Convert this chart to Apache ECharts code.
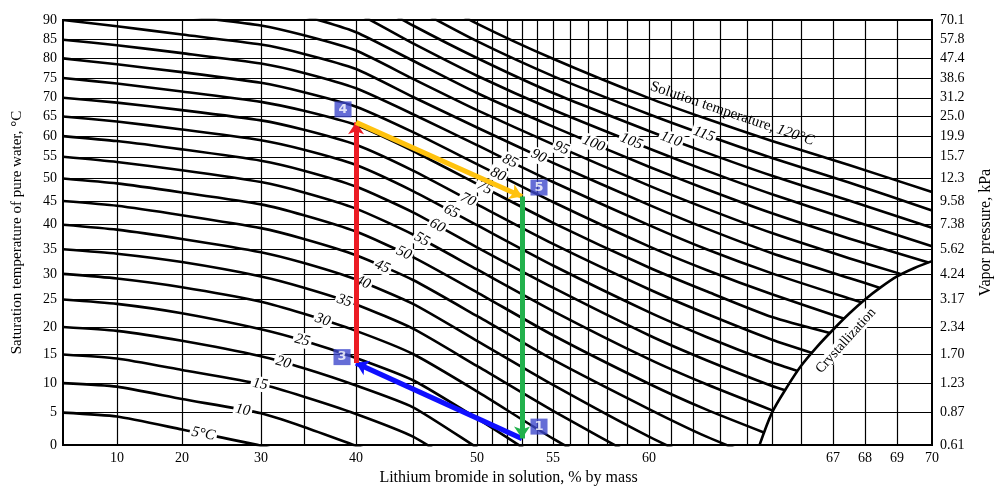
<!DOCTYPE html>
<html>
<head>
<meta charset="utf-8">
<script src="https://cdn.jsdelivr.net/npm/echarts@6/dist/echarts.min.js"></script>
<style>
  html, body { margin: 0; padding: 0; background: #fff; }
  #chart { width: 1003px; height: 491px; }
</style>
</head>
<body>
<div id="chart"></div>
<script>
// ---- data ----
// LiBr concentration columns (% by mass)
var concentrations = [0, 10, 20, 30, 35, 40, 45, 50, 55, 60, 62.5, 65, 67.5, 70];
// solution temperature of each line (°C)
var solutionTemps = [5, 10, 15, 20, 25, 30, 35, 40, 45, 50, 55, 60, 65, 70, 75, 80, 85, 90, 95, 100, 105, 110, 115, 120];
// saturation temperature of pure water (°C) along each line, one column per concentration
var dewTemps = [
  [5, 4.4, 2.4, -0.1, -2.1, null, null, null, null, null, null, null, null, null],
  [10, 9.4, 7.3, 4.9, 2.8, -0.1, -3.3, null, null, null, null, null, null, null],
  [15, 14.3, 12.3, 9.8, 7.7, 4.8, 1.3, -4.9, null, null, null, null, null, null],
  [20, 19.3, 17.5, 14.7, 12.6, 9.6, 5.9, -0.4, -7.8, null, null, null, null, null],
  [25, 24.2, 22.5, 19.6, 17.5, 14.4, 10.5, 4.1, -3.4, null, null, null, null, null],
  [30, 29.1, 27.4, 24.6, 22.4, 19.3, 15.1, 8.6, 1.0, -7.2, null, null, null, null],
  [35, 34.1, 32.4, 29.5, 27.3, 24.1, 19.7, 13.0, 5.3, -2.9, null, null, null, null],
  [40, 39.0, 37.1, 34.4, 32.2, 28.9, 24.2, 17.5, 9.7, 1.3, -2.9, null, null, null],
  [45, 44.0, 42.0, 39.3, 37.1, 33.8, 28.8, 22.0, 14.1, 5.6, 1.3, -2.8, null, null],
  [50, 48.9, 46.9, 44.3, 42.0, 38.6, 33.4, 26.4, 18.5, 9.9, 5.5, null, null, null],
  [55, 53.8, 51.9, 49.2, 46.9, 43.4, 38.0, 30.9, 22.9, 14.2, 9.8, null, null, null],
  [60, 58.8, 56.8, 54.1, 51.8, 48.2, 42.6, 35.4, 27.3, 18.5, 14.0, 9.5, null, null],
  [65, 63.7, 61.7, 59.0, 56.7, 53.1, 47.2, 39.9, 31.7, 22.7, 18.2, 13.6, null, null],
  [70, 68.7, 66.7, 64.0, 61.6, 57.9, 51.8, 44.3, 36.1, 27.0, 22.4, 17.7, null, null],
  [75, 73.6, 71.6, 68.9, 66.5, 62.8, 56.4, 48.8, 40.4, 31.3, 26.6, 21.8, null, null],
  [80, 78.5, 76.5, 73.8, 71.4, 67.6, 61.0, 53.3, 44.8, 35.6, 30.8, 26.0, null, null],
  [85, 83.5, 81.4, 78.7, 76.3, 72.4, 65.6, 57.8, 49.2, 39.9, 35.0, 30.1, 25.2, null],
  [90, 88.4, 86.3, 83.7, 81.2, 77.3, 70.2, 62.2, 53.6, 44.2, 39.2, 34.2, 29.2, null],
  [null, 93.4, 91.2, 88.6, 86.1, 82.1, 74.8, 66.7, 58.0, 48.4, 43.4, 38.3, 33.2, null],
  [null, null, null, 93.5, 91.0, 86.9, 79.4, 71.2, 62.4, 52.7, 47.6, 42.4, 37.2, null],
  [null, null, null, null, 95.9, 91.8, 84.0, 75.6, 66.8, 57.0, 51.8, 46.5, 41.1, 35.6],
  [null, null, null, null, null, 96.6, 88.6, 80.1, 71.2, 61.3, 56.0, 50.6, 45.1, 39.4],
  [null, null, null, null, null, null, 93.2, 84.6, 75.5, 65.6, 60.2, 54.7, 49.1, 43.0],
  [null, null, null, null, null, null, 97.8, 89.1, 79.9, 69.9, 64.4, 58.8, 53.1, 47.0]
];
// where a line stops on the crystallization curve [%, °C]
var crystalEnds = [
  null, null, null, null, null, null, null, null, null,
  [64.7, 1.9], [65.05, 5.3], [65.45, 8.8], [65.9, 12.1], [66.35, 15.3], [66.9, 18.9],
  [67.35, 21.5], [67.9, 24.5], [68.45, 27.3], [69.1, 30.0], [69.9, 32.3],
  null, null, null, null
];
// crystallization curve
var crystPct = [64.5, 65, 65.5, 66, 66.5, 67, 67.5, 68, 68.5, 69, 69.5, 70];
var crystTemp = [0, 5, 9.2, 13, 16.4, 19.5, 22.4, 25, 27.4, 29.5, 31.2, 32.6];
// line labels: concentration at which each label sits on its line
var lineLabelPct = [22.7, 27.7, 29.9, 32.6, 34.8, 36.8, 38.9, 40.6, 42.3, 44.2, 45.7, 46.9, 48.0, 49.3, 50.5, 51.4, 52.2, 54.1, 55.5, 57.3, 59.2, 61.0, 62.4, 63.3];
var lineLabelText = ['5°C', '10', '15', '20', '25', '30', '35', '40', '45', '50', '55', '60', '65', '70', '75', '80', '85', '90', '95', '100', '105', '110', '115', '{u|Solution temperature, }120°C'];
// cycle state points [%, °C]
var stateNames = ['1', '3', '4', '5'];
var statePoints = [[53, 1.0], [40, 13.5], [40, 63.5], [53, 46.0]];
// ticks
var xGridPct = [10, 20, 30, 35, 40, 45, 50, 51, 52, 53, 54, 55, 56, 57, 58, 59, 60, 61, 62, 63, 64, 65, 66, 67, 68, 69];
var xTickPct = [10, 20, 30, 40, 50, 55, 60, 67, 68, 69, 70];
var yTickTemps = [0, 5, 10, 15, 20, 25, 30, 35, 40, 45, 50, 55, 60, 65, 70, 75, 80, 85, 90];
var pressureLabels = ['0.61', '0.87', '1.23', '1.70', '2.34', '3.17', '4.24', '5.62', '7.38', '9.58', '12.3', '15.7', '19.9', '25.0', '31.2', '38.6', '47.4', '57.8', '70.1'];

// ---- non-linear axis scales of the printed chart (value -> axis unit 0..100) ----
var xScale = [[0, 0], [10, 6.21], [20, 13.69], [30, 22.78], [35, 27.73], [40, 33.72], [45, 40.28], [50, 47.64],
  [51, 49.37], [52, 51.09], [53, 52.82], [54, 54.55], [55, 56.39], [56, 58.34], [57, 60.41], [58, 62.60],
  [59, 64.90], [60, 67.43], [61, 69.97], [62, 72.50], [63, 75.60], [64, 78.71], [65, 81.59], [66, 84.92],
  [67, 88.61], [68, 92.29], [69, 95.97], [70, 100]];
var yScale = [[0, 0], [5, 7.64], [10, 14.58], [15, 21.30], [20, 27.78], [25, 34.26], [30, 40.28], [35, 46.06],
  [40, 51.85], [45, 57.41], [50, 62.73], [55, 67.82], [60, 72.69], [65, 77.31], [70, 81.71], [75, 86.34],
  [80, 90.97], [85, 95.37], [90, 100]];

function interp(knots, v) {
  var i = 1;
  while (i < knots.length - 1 && v > knots[i][0]) i++;
  var a = knots[i - 1], b = knots[i];
  return a[1] + (v - a[0]) * (b[1] - a[1]) / (b[0] - a[0]);
}
function xPos(p) { return interp(xScale, p); }
function yPos(t) { return interp(yScale, t); }
function nearestIndex(list, fn, v) {
  var best = 0;
  for (var i = 1; i < list.length; i++) {
    if (Math.abs(fn(list[i]) - v) < Math.abs(fn(list[best]) - v)) best = i;
  }
  return best;
}

var serif = 'Liberation Serif';
var chart = echarts.init(document.getElementById('chart'));

var lineData = solutionTemps.map(function (T, i) {
  var pts = [];
  concentrations.forEach(function (c, j) {
    var v = dewTemps[i][j];
    if (v != null) pts.push([xPos(c), yPos(v)]);
  });
  if (crystalEnds[i]) pts.push([xPos(crystalEnds[i][0]), yPos(crystalEnds[i][1])]);
  return pts;
});

var series = lineData.map(function (pts) {
  return {
    type: 'line', data: pts, showSymbol: false, silent: true, clip: true, z: 3,
    smooth: 0.2,
    lineStyle: { color: '#000', width: 2.6, join: 'round' }
  };
});

series.push({
  type: 'line', silent: true, showSymbol: false, smooth: 0.3, z: 3,
  data: crystPct.map(function (p, i) { return [xPos(p), yPos(crystTemp[i])]; }),
  lineStyle: { color: '#000', width: 2.6 }
});

var arrowColors = ['#1010ff', '#ec1c24', '#ffc20e', '#22b14c'];
var cycle = [[0, 1], [1, 2], [2, 3], [3, 0]];
series.push({
  type: 'lines', coordinateSystem: 'cartesian2d', silent: true, z: 60,
  symbol: ['none', 'arrow'], symbolSize: 12,
  data: cycle.map(function (c, k) {
    var a = statePoints[c[0]], b = statePoints[c[1]];
    return {
      coords: [[xPos(a[0]), yPos(a[1])], [xPos(b[0]), yPos(b[1])]],
      lineStyle: { color: arrowColors[k], width: 5, opacity: 1, curveness: 0 }
    };
  })
});

var boxOffsets = [[17, -12], [-14, -6], [-13, -13], [17, -9]];
series.push({
  type: 'scatter', silent: true, symbolSize: 0, z: 70,
  data: statePoints.map(function (p, i) {
    return { name: stateNames[i], value: [xPos(p[0]), yPos(p[1])], label: { offset: boxOffsets[i] } };
  }),
  label: {
    show: true, position: 'inside', formatter: '{b}', color: '#fff',
    backgroundColor: '#3f48cc', padding: [2, 4, 1, 4],
    fontFamily: 'DejaVu Sans', fontSize: 13, fontWeight: 'bold'
  }
});

var option = {
  animation: false,
  backgroundColor: '#fff',
  grid: { left: 63, right: 71, top: 20, bottom: 41, show: true, borderColor: '#000', borderWidth: 2, backgroundColor: '#fff' },
  xAxis: [{
    type: 'value', min: 0, max: 100,
    axisLine: { show: false },
    axisTick: { show: false, customValues: xGridPct.map(xPos) },
    splitLine: { show: true, lineStyle: { color: '#000', width: 1.2 } },
    axisLabel: {
      customValues: xTickPct.map(xPos), margin: 6, color: '#000', fontFamily: serif, fontSize: 14,
      formatter: function (v) { return String(xTickPct[nearestIndex(xTickPct, xPos, v)]); }
    },
    name: 'Lithium bromide in solution, % by mass', nameLocation: 'middle', nameGap: 22,
    nameTextStyle: { color: '#000', fontFamily: serif, fontSize: 16, padding: [0, 0, 0, 22] }
  }],
  yAxis: [{
    type: 'value', min: 0, max: 100, position: 'left',
    axisLine: { show: false },
    axisTick: { show: false, customValues: yTickTemps.map(yPos) },
    splitLine: { show: true, lineStyle: { color: '#000', width: 1.2 } },
    axisLabel: {
      customValues: yTickTemps.map(yPos), margin: 6, color: '#000', fontFamily: serif, fontSize: 14,
      formatter: function (v) { return String(yTickTemps[nearestIndex(yTickTemps, yPos, v)]); }
    },
    name: 'Saturation temperature of pure water, °C', nameLocation: 'middle', nameGap: 38, nameRotate: 90,
    nameTextStyle: { color: '#000', fontFamily: serif, fontSize: 15 }
  }, {
    type: 'value', min: 0, max: 100, position: 'right',
    axisLine: { show: false },
    axisTick: { show: false, customValues: yTickTemps.map(yPos) },
    splitLine: { show: false },
    axisLabel: {
      customValues: yTickTemps.map(yPos), margin: 8, color: '#000', fontFamily: serif, fontSize: 14,
      formatter: function (v) { return pressureLabels[nearestIndex(yTickTemps, yPos, v)]; }
    },
    name: 'Vapor pressure, kPa', nameLocation: 'middle', nameGap: 46, nameRotate: 90,
    nameTextStyle: { color: '#000', fontFamily: serif, fontSize: 16 }
  }],
  series: series
};
chart.setOption(option);

// line labels sit on their curves, turned along the local slope
var graphics = [];
lineLabelPct.forEach(function (c, i) {
  var pts = lineData[i], xu = xPos(c), k = 0;
  while (k < pts.length - 2 && pts[k + 1][0] < xu) k++;
  var p1 = chart.convertToPixel({ gridIndex: 0 }, pts[k]);
  var p2 = chart.convertToPixel({ gridIndex: 0 }, pts[k + 1]);
  var f = (xu - pts[k][0]) / (pts[k + 1][0] - pts[k][0]);
  var px = p1[0] + f * (p2[0] - p1[0]), py = p1[1] + f * (p2[1] - p1[1]);
  var ang = Math.atan2(p2[1] - p1[1], p2[0] - p1[0]);
  var last = i === lineLabelPct.length - 1;
  if (last) { px += 13 * Math.sin(ang); py -= 13 * Math.cos(ang); }
  graphics.push({
    type: 'text', x: px, y: py, rotation: -ang, z: 50, silent: true,
    style: {
      text: lineLabelText[i], fill: '#000', align: 'center', verticalAlign: 'middle',
      font: 'italic 15px "Liberation Serif"', backgroundColor: last ? null : '#fff', padding: [0, 2],
      rich: { u: { font: '15px "Liberation Serif"', fill: '#000' } }
    }
  });
});
var cp = chart.convertToPixel({ gridIndex: 0 }, [xPos(67.4), yPos(17.5)]);
graphics.push({
  type: 'text', x: cp[0], y: cp[1], rotation: 48 * Math.PI / 180, z: 50, silent: true,
  style: {
    text: 'Crystallization', fill: '#000', align: 'center', verticalAlign: 'middle',
    font: '14px "Liberation Serif"', backgroundColor: '#fff', padding: [0, 2]
  }
});
chart.setOption({ graphic: graphics });
</script>
</body>
</html>
